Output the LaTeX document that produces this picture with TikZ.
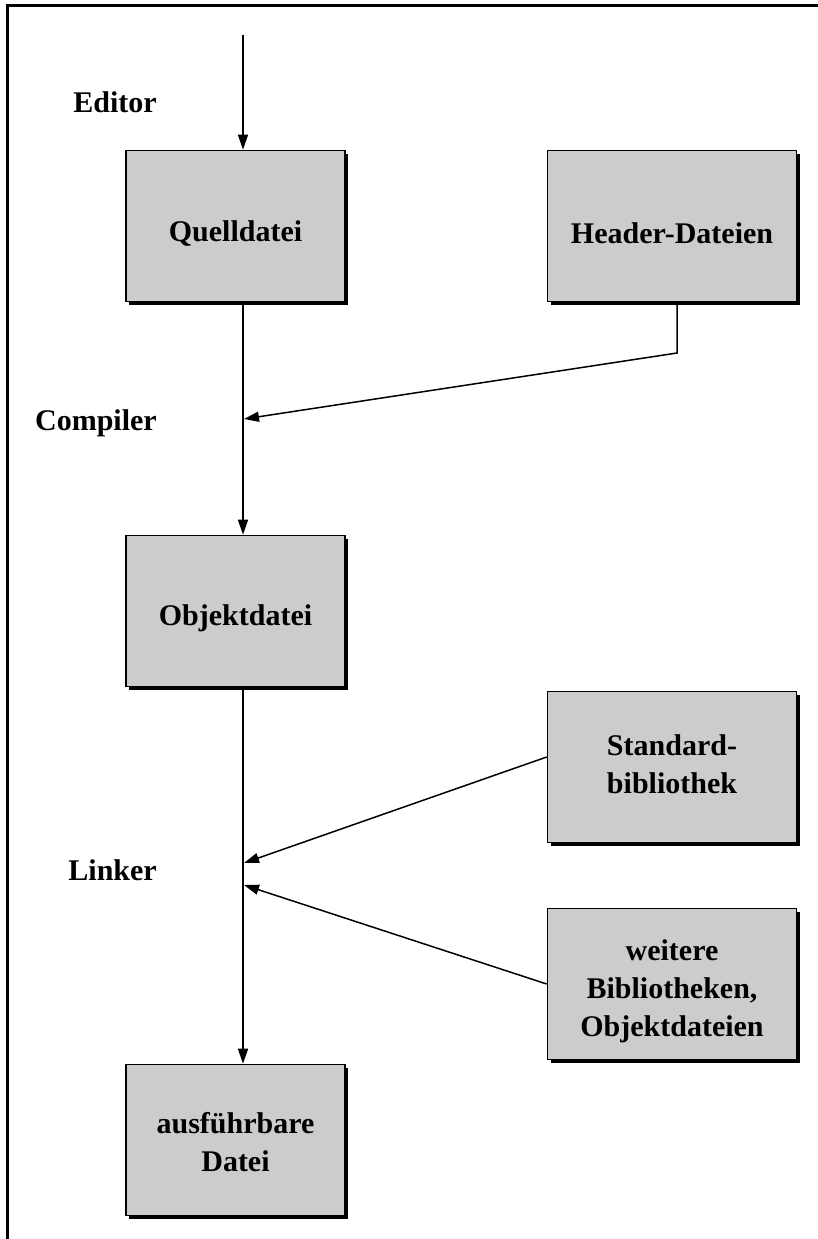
\documentclass[tikz,border=0pt]{standalone}
\usepackage{fontspec}
\setmainfont{Liberation Serif}
\usetikzlibrary{arrows.meta}
\newcommand{\lowered}[2]{\raisebox{-#1}[\height][\depth]{#2}}
\begin{document}
\begin{tikzpicture}[x=1pt,y=-1pt,
  box/.style={draw=black,line width=1.6pt,fill=boxgray,minimum height=151pt,inner sep=2pt,align=center,
    font=\fontsize{30}{38}\selectfont\bfseries,
    preaction={fill=black,transform canvas={xshift=3pt,yshift=-3pt}}},
  lbl/.style={anchor=east,font=\fontsize{30}{38}\selectfont\bfseries,inner sep=0pt},
  arr/.style={line width=1.5pt,-{Triangle[length=15pt,width=10pt]}},
  ln/.style={line width=1.5pt}]
\definecolor{boxgray}{HTML}{CCCCCC}
\useasboundingbox (0,0) rectangle (817,1239);
\fill[white] (0,0) rectangle (817,1239);
\draw[line width=3pt] (7,1239) -- (7,6) -- (818,6);

\node[box,minimum width=219pt] (q) at (235.5,226) {\lowered{8pt}{Quelldatei}};
\node[box,minimum width=249pt] (h) at (672,226) {\lowered{7pt}{Header-Dateien}};
\node[box,minimum width=219pt] (o) at (235.5,611) {\lowered{7pt}{Objektdatei}};
\node[box,minimum width=249pt] (s) at (672,767) {\lowered{0pt}{\begin{tabular}{@{}c@{}}Standard-\\bibliothek\end{tabular}}};
\node[box,minimum width=249pt] (w) at (672,984) {\lowered{7pt}{\begin{tabular}{@{}c@{}}weitere\\Bibliotheken,\\Objektdateien\end{tabular}}};
\node[box,minimum width=219pt] (e) at (235.5,1140) {\lowered{5pt}{\begin{tabular}{@{}c@{}}ausführbare\\Datei\end{tabular}}};

\node[lbl] (edl) at (157,102) {Editor};
\node[lbl] (cl) at (157,423) {Compiler};
\node[lbl] (ll) at (157,870) {Linker};

\coordinate (top) at (243,35);
\coordinate (hb) at (677,353);
\coordinate (ct) at (244,419);
\coordinate (lt1) at (244,863);
\coordinate (lt2) at (244,885);

\draw[arr] (top) -- (top |- q.north);
\draw[arr] (q.south -| top) -- (o.north -| top);
\draw[arr] (h.south -| hb) -- (hb) -- (ct);
\draw[arr] (o.south -| top) -- (e.north -| top);
\draw[arr] ([yshift=10pt]s.west) -- (lt1);
\draw[arr] (w.west) -- (lt2);
\end{tikzpicture}
\end{document}
